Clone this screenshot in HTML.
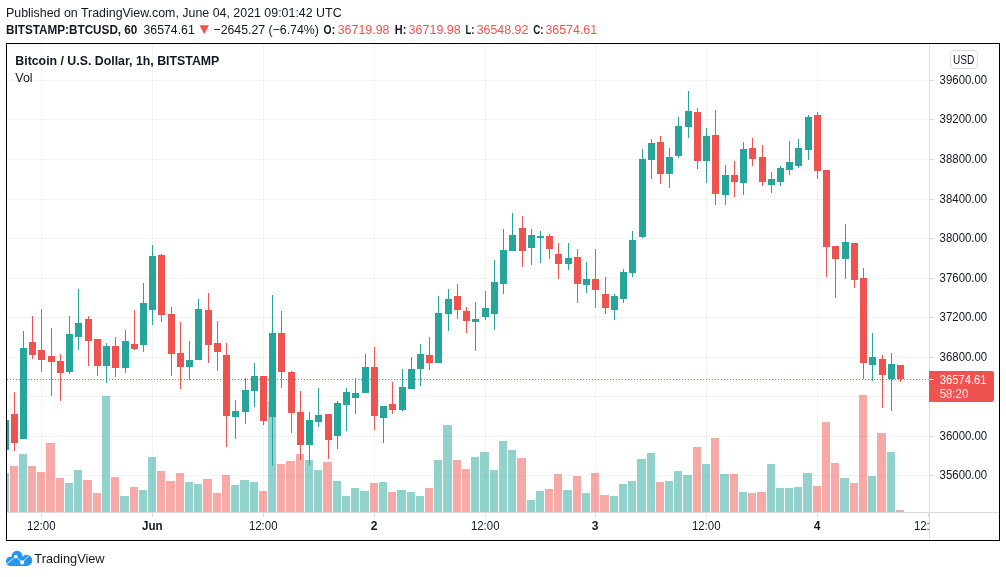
<!DOCTYPE html>
<html><head><meta charset="utf-8"><title>BTCUSD</title>
<style>html,body{margin:0;padding:0;background:#fff}body{width:1006px;height:577px;overflow:hidden;font-family:"Liberation Sans",sans-serif}</style>
</head><body>
<svg width="1006" height="577" viewBox="0 0 1006 577" style="display:block;will-change:transform">
<g shape-rendering="crispEdges">
<rect x="7" y="80" width="922" height="1" fill="rgba(42,46,57,0.06)"/>
<rect x="7" y="119" width="922" height="1" fill="rgba(42,46,57,0.06)"/>
<rect x="7" y="159" width="922" height="1" fill="rgba(42,46,57,0.06)"/>
<rect x="7" y="199" width="922" height="1" fill="rgba(42,46,57,0.06)"/>
<rect x="7" y="238" width="922" height="1" fill="rgba(42,46,57,0.06)"/>
<rect x="7" y="278" width="922" height="1" fill="rgba(42,46,57,0.06)"/>
<rect x="7" y="317" width="922" height="1" fill="rgba(42,46,57,0.06)"/>
<rect x="7" y="357" width="922" height="1" fill="rgba(42,46,57,0.06)"/>
<rect x="7" y="396" width="922" height="1" fill="rgba(42,46,57,0.06)"/>
<rect x="7" y="436" width="922" height="1" fill="rgba(42,46,57,0.06)"/>
<rect x="7" y="475" width="922" height="1" fill="rgba(42,46,57,0.06)"/>
<rect x="41" y="44" width="1" height="468" fill="rgba(42,46,57,0.06)"/>
<rect x="152" y="44" width="1" height="468" fill="rgba(42,46,57,0.06)"/>
<rect x="263" y="44" width="1" height="468" fill="rgba(42,46,57,0.06)"/>
<rect x="374" y="44" width="1" height="468" fill="rgba(42,46,57,0.06)"/>
<rect x="485" y="44" width="1" height="468" fill="rgba(42,46,57,0.06)"/>
<rect x="595" y="44" width="1" height="468" fill="rgba(42,46,57,0.06)"/>
<rect x="706" y="44" width="1" height="468" fill="rgba(42,46,57,0.06)"/>
<rect x="817" y="44" width="1" height="468" fill="rgba(42,46,57,0.06)"/>
<defs><clipPath id="cp"><rect x="7" y="44" width="922" height="468"/></clipPath></defs>
<g clip-path="url(#cp)">
<rect x="0" y="473" width="9" height="39" fill="rgba(38,166,154,0.5)"/>
<rect x="10" y="466" width="8" height="46" fill="rgba(239,83,80,0.5)"/>
<rect x="19" y="454" width="8" height="58" fill="rgba(38,166,154,0.5)"/>
<rect x="28" y="466" width="8" height="46" fill="rgba(239,83,80,0.5)"/>
<rect x="37" y="472" width="8" height="40" fill="rgba(239,83,80,0.5)"/>
<rect x="46" y="443" width="9" height="69" fill="rgba(239,83,80,0.5)"/>
<rect x="56" y="478" width="8" height="34" fill="rgba(239,83,80,0.5)"/>
<rect x="65" y="483" width="8" height="29" fill="rgba(38,166,154,0.5)"/>
<rect x="74" y="470" width="8" height="42" fill="rgba(38,166,154,0.5)"/>
<rect x="83" y="480" width="9" height="32" fill="rgba(239,83,80,0.5)"/>
<rect x="93" y="493" width="8" height="19" fill="rgba(239,83,80,0.5)"/>
<rect x="102" y="396" width="8" height="116" fill="rgba(38,166,154,0.5)"/>
<rect x="111" y="477" width="8" height="35" fill="rgba(239,83,80,0.5)"/>
<rect x="120" y="496" width="9" height="16" fill="rgba(38,166,154,0.5)"/>
<rect x="130" y="487" width="8" height="25" fill="rgba(239,83,80,0.5)"/>
<rect x="139" y="490" width="8" height="22" fill="rgba(38,166,154,0.5)"/>
<rect x="148" y="457" width="8" height="55" fill="rgba(38,166,154,0.5)"/>
<rect x="157" y="471" width="8" height="41" fill="rgba(239,83,80,0.5)"/>
<rect x="166" y="481" width="9" height="31" fill="rgba(239,83,80,0.5)"/>
<rect x="176" y="473" width="8" height="39" fill="rgba(239,83,80,0.5)"/>
<rect x="185" y="482" width="8" height="30" fill="rgba(38,166,154,0.5)"/>
<rect x="194" y="484" width="8" height="28" fill="rgba(38,166,154,0.5)"/>
<rect x="203" y="479" width="9" height="33" fill="rgba(239,83,80,0.5)"/>
<rect x="213" y="493" width="8" height="19" fill="rgba(239,83,80,0.5)"/>
<rect x="222" y="475" width="8" height="37" fill="rgba(239,83,80,0.5)"/>
<rect x="231" y="485" width="8" height="27" fill="rgba(38,166,154,0.5)"/>
<rect x="240" y="480" width="9" height="32" fill="rgba(38,166,154,0.5)"/>
<rect x="250" y="482" width="8" height="30" fill="rgba(38,166,154,0.5)"/>
<rect x="259" y="491" width="8" height="21" fill="rgba(239,83,80,0.5)"/>
<rect x="268" y="401" width="8" height="111" fill="rgba(38,166,154,0.5)"/>
<rect x="277" y="464" width="8" height="48" fill="rgba(239,83,80,0.5)"/>
<rect x="286" y="461" width="9" height="51" fill="rgba(239,83,80,0.5)"/>
<rect x="296" y="454" width="8" height="58" fill="rgba(239,83,80,0.5)"/>
<rect x="305" y="460" width="8" height="52" fill="rgba(38,166,154,0.5)"/>
<rect x="314" y="470" width="8" height="42" fill="rgba(38,166,154,0.5)"/>
<rect x="323" y="462" width="9" height="50" fill="rgba(239,83,80,0.5)"/>
<rect x="333" y="481" width="8" height="31" fill="rgba(38,166,154,0.5)"/>
<rect x="342" y="496" width="8" height="16" fill="rgba(38,166,154,0.5)"/>
<rect x="351" y="488" width="8" height="24" fill="rgba(38,166,154,0.5)"/>
<rect x="360" y="491" width="9" height="21" fill="rgba(38,166,154,0.5)"/>
<rect x="370" y="483" width="8" height="29" fill="rgba(239,83,80,0.5)"/>
<rect x="379" y="482" width="8" height="30" fill="rgba(38,166,154,0.5)"/>
<rect x="388" y="492" width="8" height="20" fill="rgba(239,83,80,0.5)"/>
<rect x="397" y="490" width="9" height="22" fill="rgba(38,166,154,0.5)"/>
<rect x="407" y="492" width="8" height="20" fill="rgba(38,166,154,0.5)"/>
<rect x="416" y="496" width="8" height="16" fill="rgba(38,166,154,0.5)"/>
<rect x="425" y="488" width="8" height="24" fill="rgba(239,83,80,0.5)"/>
<rect x="434" y="460" width="8" height="52" fill="rgba(38,166,154,0.5)"/>
<rect x="443" y="425" width="9" height="87" fill="rgba(38,166,154,0.5)"/>
<rect x="453" y="460" width="8" height="52" fill="rgba(239,83,80,0.5)"/>
<rect x="462" y="469" width="8" height="43" fill="rgba(239,83,80,0.5)"/>
<rect x="471" y="457" width="8" height="55" fill="rgba(38,166,154,0.5)"/>
<rect x="480" y="452" width="9" height="60" fill="rgba(38,166,154,0.5)"/>
<rect x="490" y="470" width="8" height="42" fill="rgba(38,166,154,0.5)"/>
<rect x="499" y="441" width="8" height="71" fill="rgba(38,166,154,0.5)"/>
<rect x="508" y="450" width="8" height="62" fill="rgba(38,166,154,0.5)"/>
<rect x="517" y="458" width="9" height="54" fill="rgba(239,83,80,0.5)"/>
<rect x="527" y="500" width="8" height="12" fill="rgba(38,166,154,0.5)"/>
<rect x="536" y="491" width="8" height="21" fill="rgba(38,166,154,0.5)"/>
<rect x="545" y="489" width="8" height="23" fill="rgba(239,83,80,0.5)"/>
<rect x="554" y="474" width="8" height="38" fill="rgba(239,83,80,0.5)"/>
<rect x="563" y="490" width="9" height="22" fill="rgba(38,166,154,0.5)"/>
<rect x="573" y="476" width="8" height="36" fill="rgba(239,83,80,0.5)"/>
<rect x="582" y="493" width="8" height="19" fill="rgba(38,166,154,0.5)"/>
<rect x="591" y="473" width="8" height="39" fill="rgba(239,83,80,0.5)"/>
<rect x="600" y="495" width="9" height="17" fill="rgba(239,83,80,0.5)"/>
<rect x="610" y="496" width="8" height="16" fill="rgba(38,166,154,0.5)"/>
<rect x="619" y="484" width="8" height="28" fill="rgba(38,166,154,0.5)"/>
<rect x="628" y="481" width="8" height="31" fill="rgba(38,166,154,0.5)"/>
<rect x="637" y="459" width="9" height="53" fill="rgba(38,166,154,0.5)"/>
<rect x="647" y="453" width="8" height="59" fill="rgba(38,166,154,0.5)"/>
<rect x="656" y="482" width="8" height="30" fill="rgba(239,83,80,0.5)"/>
<rect x="665" y="481" width="8" height="31" fill="rgba(38,166,154,0.5)"/>
<rect x="674" y="471" width="8" height="41" fill="rgba(38,166,154,0.5)"/>
<rect x="683" y="475" width="9" height="37" fill="rgba(38,166,154,0.5)"/>
<rect x="693" y="447" width="8" height="65" fill="rgba(239,83,80,0.5)"/>
<rect x="702" y="464" width="8" height="48" fill="rgba(38,166,154,0.5)"/>
<rect x="711" y="438" width="8" height="74" fill="rgba(239,83,80,0.5)"/>
<rect x="720" y="474" width="9" height="38" fill="rgba(38,166,154,0.5)"/>
<rect x="730" y="474" width="8" height="38" fill="rgba(239,83,80,0.5)"/>
<rect x="739" y="492" width="8" height="20" fill="rgba(38,166,154,0.5)"/>
<rect x="748" y="493" width="8" height="19" fill="rgba(239,83,80,0.5)"/>
<rect x="757" y="492" width="9" height="20" fill="rgba(239,83,80,0.5)"/>
<rect x="767" y="464" width="8" height="48" fill="rgba(38,166,154,0.5)"/>
<rect x="776" y="488" width="8" height="24" fill="rgba(38,166,154,0.5)"/>
<rect x="785" y="488" width="8" height="24" fill="rgba(38,166,154,0.5)"/>
<rect x="794" y="487" width="8" height="25" fill="rgba(38,166,154,0.5)"/>
<rect x="803" y="473" width="9" height="39" fill="rgba(38,166,154,0.5)"/>
<rect x="813" y="486" width="8" height="26" fill="rgba(239,83,80,0.5)"/>
<rect x="822" y="422" width="8" height="90" fill="rgba(239,83,80,0.5)"/>
<rect x="831" y="463" width="8" height="49" fill="rgba(239,83,80,0.5)"/>
<rect x="840" y="478" width="9" height="34" fill="rgba(38,166,154,0.5)"/>
<rect x="850" y="483" width="8" height="29" fill="rgba(239,83,80,0.5)"/>
<rect x="859" y="395" width="8" height="117" fill="rgba(239,83,80,0.5)"/>
<rect x="868" y="476" width="8" height="36" fill="rgba(38,166,154,0.5)"/>
<rect x="877" y="433" width="9" height="79" fill="rgba(239,83,80,0.5)"/>
<rect x="887" y="452" width="8" height="60" fill="rgba(38,166,154,0.5)"/>
<rect x="896" y="510" width="8" height="2" fill="rgba(239,83,80,0.5)"/>
<rect x="5" y="420" width="1" height="30" fill="#26A69A"/>
<rect x="2" y="420" width="7" height="30" fill="#26A69A"/>
<rect x="14" y="392" width="1" height="59" fill="#EF5350"/>
<rect x="11" y="414" width="7" height="29" fill="#EF5350"/>
<rect x="23" y="331" width="1" height="108" fill="#26A69A"/>
<rect x="20" y="348" width="7" height="91" fill="#26A69A"/>
<rect x="32" y="316" width="1" height="43" fill="#EF5350"/>
<rect x="29" y="342" width="7" height="13" fill="#EF5350"/>
<rect x="41" y="309" width="1" height="63" fill="#EF5350"/>
<rect x="38" y="350" width="7" height="10" fill="#EF5350"/>
<rect x="51" y="328" width="1" height="68" fill="#EF5350"/>
<rect x="48" y="356" width="7" height="6" fill="#EF5350"/>
<rect x="60" y="354" width="1" height="47" fill="#EF5350"/>
<rect x="57" y="361" width="7" height="12" fill="#EF5350"/>
<rect x="69" y="316" width="1" height="58" fill="#26A69A"/>
<rect x="66" y="334" width="7" height="38" fill="#26A69A"/>
<rect x="78" y="289" width="1" height="61" fill="#26A69A"/>
<rect x="75" y="323" width="7" height="14" fill="#26A69A"/>
<rect x="88" y="316" width="1" height="50" fill="#EF5350"/>
<rect x="85" y="319" width="7" height="22" fill="#EF5350"/>
<rect x="97" y="339" width="1" height="37" fill="#EF5350"/>
<rect x="94" y="339" width="7" height="27" fill="#EF5350"/>
<rect x="106" y="343" width="1" height="40" fill="#26A69A"/>
<rect x="103" y="346" width="7" height="20" fill="#26A69A"/>
<rect x="115" y="337" width="1" height="40" fill="#EF5350"/>
<rect x="112" y="346" width="7" height="22" fill="#EF5350"/>
<rect x="125" y="330" width="1" height="43" fill="#26A69A"/>
<rect x="122" y="341" width="7" height="27" fill="#26A69A"/>
<rect x="134" y="310" width="1" height="40" fill="#EF5350"/>
<rect x="131" y="344" width="7" height="5" fill="#EF5350"/>
<rect x="143" y="283" width="1" height="69" fill="#26A69A"/>
<rect x="140" y="303" width="7" height="42" fill="#26A69A"/>
<rect x="152" y="245" width="1" height="80" fill="#26A69A"/>
<rect x="149" y="256" width="7" height="54" fill="#26A69A"/>
<rect x="161" y="254" width="1" height="68" fill="#EF5350"/>
<rect x="158" y="255" width="7" height="60" fill="#EF5350"/>
<rect x="171" y="307" width="1" height="69" fill="#EF5350"/>
<rect x="168" y="314" width="7" height="40" fill="#EF5350"/>
<rect x="180" y="322" width="1" height="67" fill="#EF5350"/>
<rect x="177" y="353" width="7" height="14" fill="#EF5350"/>
<rect x="189" y="341" width="1" height="39" fill="#26A69A"/>
<rect x="186" y="360" width="7" height="7" fill="#26A69A"/>
<rect x="198" y="299" width="1" height="61" fill="#26A69A"/>
<rect x="195" y="309" width="7" height="51" fill="#26A69A"/>
<rect x="208" y="293" width="1" height="70" fill="#EF5350"/>
<rect x="205" y="310" width="7" height="35" fill="#EF5350"/>
<rect x="217" y="321" width="1" height="50" fill="#EF5350"/>
<rect x="214" y="343" width="7" height="9" fill="#EF5350"/>
<rect x="226" y="343" width="1" height="104" fill="#EF5350"/>
<rect x="223" y="355" width="7" height="61" fill="#EF5350"/>
<rect x="235" y="400" width="1" height="39" fill="#26A69A"/>
<rect x="232" y="411" width="7" height="6" fill="#26A69A"/>
<rect x="245" y="378" width="1" height="46" fill="#26A69A"/>
<rect x="242" y="390" width="7" height="22" fill="#26A69A"/>
<rect x="254" y="363" width="1" height="44" fill="#26A69A"/>
<rect x="251" y="376" width="7" height="15" fill="#26A69A"/>
<rect x="263" y="376" width="1" height="49" fill="#EF5350"/>
<rect x="260" y="376" width="7" height="45" fill="#EF5350"/>
<rect x="272" y="295" width="1" height="171" fill="#26A69A"/>
<rect x="269" y="333" width="7" height="84" fill="#26A69A"/>
<rect x="281" y="311" width="1" height="77" fill="#EF5350"/>
<rect x="278" y="333" width="7" height="39" fill="#EF5350"/>
<rect x="291" y="371" width="1" height="62" fill="#EF5350"/>
<rect x="288" y="372" width="7" height="41" fill="#EF5350"/>
<rect x="300" y="391" width="1" height="69" fill="#EF5350"/>
<rect x="297" y="412" width="7" height="33" fill="#EF5350"/>
<rect x="309" y="412" width="1" height="53" fill="#26A69A"/>
<rect x="306" y="420" width="7" height="25" fill="#26A69A"/>
<rect x="318" y="388" width="1" height="39" fill="#26A69A"/>
<rect x="315" y="415" width="7" height="7" fill="#26A69A"/>
<rect x="328" y="414" width="1" height="45" fill="#EF5350"/>
<rect x="325" y="414" width="7" height="26" fill="#EF5350"/>
<rect x="337" y="401" width="1" height="48" fill="#26A69A"/>
<rect x="334" y="403" width="7" height="33" fill="#26A69A"/>
<rect x="346" y="388" width="1" height="43" fill="#26A69A"/>
<rect x="343" y="392" width="7" height="13" fill="#26A69A"/>
<rect x="355" y="378" width="1" height="36" fill="#26A69A"/>
<rect x="352" y="393" width="7" height="5" fill="#26A69A"/>
<rect x="365" y="354" width="1" height="39" fill="#26A69A"/>
<rect x="362" y="367" width="7" height="26" fill="#26A69A"/>
<rect x="374" y="347" width="1" height="83" fill="#EF5350"/>
<rect x="371" y="367" width="7" height="49" fill="#EF5350"/>
<rect x="383" y="406" width="1" height="37" fill="#26A69A"/>
<rect x="380" y="406" width="7" height="12" fill="#26A69A"/>
<rect x="392" y="382" width="1" height="32" fill="#EF5350"/>
<rect x="389" y="404" width="7" height="6" fill="#EF5350"/>
<rect x="402" y="369" width="1" height="42" fill="#26A69A"/>
<rect x="399" y="387" width="7" height="23" fill="#26A69A"/>
<rect x="411" y="357" width="1" height="32" fill="#26A69A"/>
<rect x="408" y="369" width="7" height="20" fill="#26A69A"/>
<rect x="420" y="344" width="1" height="42" fill="#26A69A"/>
<rect x="417" y="354" width="7" height="15" fill="#26A69A"/>
<rect x="429" y="337" width="1" height="33" fill="#EF5350"/>
<rect x="426" y="355" width="7" height="8" fill="#EF5350"/>
<rect x="438" y="296" width="1" height="67" fill="#26A69A"/>
<rect x="435" y="313" width="7" height="50" fill="#26A69A"/>
<rect x="448" y="289" width="1" height="42" fill="#26A69A"/>
<rect x="445" y="299" width="7" height="15" fill="#26A69A"/>
<rect x="457" y="284" width="1" height="35" fill="#EF5350"/>
<rect x="454" y="296" width="7" height="14" fill="#EF5350"/>
<rect x="466" y="307" width="1" height="26" fill="#EF5350"/>
<rect x="463" y="311" width="7" height="10" fill="#EF5350"/>
<rect x="475" y="302" width="1" height="49" fill="#26A69A"/>
<rect x="472" y="319" width="7" height="3" fill="#26A69A"/>
<rect x="485" y="291" width="1" height="29" fill="#26A69A"/>
<rect x="482" y="308" width="7" height="9" fill="#26A69A"/>
<rect x="494" y="260" width="1" height="70" fill="#26A69A"/>
<rect x="491" y="282" width="7" height="32" fill="#26A69A"/>
<rect x="503" y="229" width="1" height="65" fill="#26A69A"/>
<rect x="500" y="250" width="7" height="34" fill="#26A69A"/>
<rect x="512" y="213" width="1" height="38" fill="#26A69A"/>
<rect x="509" y="235" width="7" height="16" fill="#26A69A"/>
<rect x="522" y="216" width="1" height="51" fill="#EF5350"/>
<rect x="519" y="228" width="7" height="23" fill="#EF5350"/>
<rect x="531" y="229" width="1" height="36" fill="#26A69A"/>
<rect x="528" y="235" width="7" height="13" fill="#26A69A"/>
<rect x="540" y="231" width="1" height="32" fill="#26A69A"/>
<rect x="537" y="236" width="7" height="2" fill="#26A69A"/>
<rect x="549" y="234" width="1" height="25" fill="#EF5350"/>
<rect x="546" y="236" width="7" height="13" fill="#EF5350"/>
<rect x="558" y="243" width="1" height="36" fill="#EF5350"/>
<rect x="555" y="254" width="7" height="10" fill="#EF5350"/>
<rect x="568" y="243" width="1" height="27" fill="#26A69A"/>
<rect x="565" y="258" width="7" height="6" fill="#26A69A"/>
<rect x="577" y="249" width="1" height="54" fill="#EF5350"/>
<rect x="574" y="257" width="7" height="27" fill="#EF5350"/>
<rect x="586" y="262" width="1" height="31" fill="#26A69A"/>
<rect x="583" y="279" width="7" height="6" fill="#26A69A"/>
<rect x="595" y="249" width="1" height="59" fill="#EF5350"/>
<rect x="592" y="279" width="7" height="11" fill="#EF5350"/>
<rect x="605" y="277" width="1" height="37" fill="#EF5350"/>
<rect x="602" y="294" width="7" height="14" fill="#EF5350"/>
<rect x="614" y="294" width="1" height="26" fill="#26A69A"/>
<rect x="611" y="296" width="7" height="14" fill="#26A69A"/>
<rect x="623" y="269" width="1" height="34" fill="#26A69A"/>
<rect x="620" y="272" width="7" height="27" fill="#26A69A"/>
<rect x="632" y="231" width="1" height="46" fill="#26A69A"/>
<rect x="629" y="240" width="7" height="33" fill="#26A69A"/>
<rect x="642" y="149" width="1" height="89" fill="#26A69A"/>
<rect x="639" y="159" width="7" height="78" fill="#26A69A"/>
<rect x="651" y="139" width="1" height="40" fill="#26A69A"/>
<rect x="648" y="143" width="7" height="17" fill="#26A69A"/>
<rect x="660" y="136" width="1" height="48" fill="#EF5350"/>
<rect x="657" y="142" width="7" height="32" fill="#EF5350"/>
<rect x="669" y="148" width="1" height="40" fill="#26A69A"/>
<rect x="666" y="157" width="7" height="17" fill="#26A69A"/>
<rect x="678" y="117" width="1" height="41" fill="#26A69A"/>
<rect x="675" y="126" width="7" height="30" fill="#26A69A"/>
<rect x="688" y="91" width="1" height="47" fill="#26A69A"/>
<rect x="685" y="111" width="7" height="16" fill="#26A69A"/>
<rect x="697" y="108" width="1" height="61" fill="#EF5350"/>
<rect x="694" y="112" width="7" height="49" fill="#EF5350"/>
<rect x="706" y="128" width="1" height="55" fill="#26A69A"/>
<rect x="703" y="136" width="7" height="25" fill="#26A69A"/>
<rect x="715" y="110" width="1" height="95" fill="#EF5350"/>
<rect x="712" y="135" width="7" height="59" fill="#EF5350"/>
<rect x="725" y="165" width="1" height="40" fill="#26A69A"/>
<rect x="722" y="175" width="7" height="20" fill="#26A69A"/>
<rect x="734" y="161" width="1" height="36" fill="#EF5350"/>
<rect x="731" y="175" width="7" height="7" fill="#EF5350"/>
<rect x="743" y="142" width="1" height="53" fill="#26A69A"/>
<rect x="740" y="149" width="7" height="34" fill="#26A69A"/>
<rect x="752" y="138" width="1" height="28" fill="#EF5350"/>
<rect x="749" y="148" width="7" height="11" fill="#EF5350"/>
<rect x="762" y="145" width="1" height="41" fill="#EF5350"/>
<rect x="759" y="157" width="7" height="25" fill="#EF5350"/>
<rect x="771" y="172" width="1" height="21" fill="#26A69A"/>
<rect x="768" y="179" width="7" height="6" fill="#26A69A"/>
<rect x="780" y="166" width="1" height="20" fill="#26A69A"/>
<rect x="777" y="168" width="7" height="14" fill="#26A69A"/>
<rect x="789" y="141" width="1" height="34" fill="#26A69A"/>
<rect x="786" y="162" width="7" height="8" fill="#26A69A"/>
<rect x="798" y="139" width="1" height="29" fill="#26A69A"/>
<rect x="795" y="148" width="7" height="18" fill="#26A69A"/>
<rect x="808" y="115" width="1" height="45" fill="#26A69A"/>
<rect x="805" y="117" width="7" height="33" fill="#26A69A"/>
<rect x="817" y="112" width="1" height="67" fill="#EF5350"/>
<rect x="814" y="115" width="7" height="56" fill="#EF5350"/>
<rect x="826" y="170" width="1" height="107" fill="#EF5350"/>
<rect x="823" y="170" width="7" height="77" fill="#EF5350"/>
<rect x="835" y="246" width="1" height="52" fill="#EF5350"/>
<rect x="832" y="246" width="7" height="13" fill="#EF5350"/>
<rect x="845" y="224" width="1" height="55" fill="#26A69A"/>
<rect x="842" y="242" width="7" height="17" fill="#26A69A"/>
<rect x="854" y="243" width="1" height="45" fill="#EF5350"/>
<rect x="851" y="243" width="7" height="37" fill="#EF5350"/>
<rect x="863" y="268" width="1" height="111" fill="#EF5350"/>
<rect x="860" y="278" width="7" height="85" fill="#EF5350"/>
<rect x="872" y="333" width="1" height="48" fill="#26A69A"/>
<rect x="869" y="357" width="7" height="8" fill="#26A69A"/>
<rect x="882" y="355" width="1" height="53" fill="#EF5350"/>
<rect x="879" y="359" width="7" height="16" fill="#EF5350"/>
<rect x="891" y="353" width="1" height="58" fill="#26A69A"/>
<rect x="888" y="364" width="7" height="15" fill="#26A69A"/>
<rect x="900" y="365" width="1" height="17" fill="#EF5350"/>
<rect x="897" y="365" width="7" height="14" fill="#EF5350"/>
</g>
<g fill="#EF5350">
<rect x="7" y="379" width="1" height="1"/>
<rect x="10" y="379" width="1" height="1"/>
<rect x="13" y="379" width="1" height="1"/>
<rect x="16" y="379" width="1" height="1"/>
<rect x="19" y="379" width="1" height="1"/>
<rect x="22" y="379" width="1" height="1"/>
<rect x="25" y="379" width="1" height="1"/>
<rect x="28" y="379" width="1" height="1"/>
<rect x="31" y="379" width="1" height="1"/>
<rect x="34" y="379" width="1" height="1"/>
<rect x="37" y="379" width="1" height="1"/>
<rect x="40" y="379" width="1" height="1"/>
<rect x="43" y="379" width="1" height="1"/>
<rect x="46" y="379" width="1" height="1"/>
<rect x="49" y="379" width="1" height="1"/>
<rect x="52" y="379" width="1" height="1"/>
<rect x="55" y="379" width="1" height="1"/>
<rect x="58" y="379" width="1" height="1"/>
<rect x="61" y="379" width="1" height="1"/>
<rect x="64" y="379" width="1" height="1"/>
<rect x="67" y="379" width="1" height="1"/>
<rect x="70" y="379" width="1" height="1"/>
<rect x="73" y="379" width="1" height="1"/>
<rect x="76" y="379" width="1" height="1"/>
<rect x="79" y="379" width="1" height="1"/>
<rect x="82" y="379" width="1" height="1"/>
<rect x="85" y="379" width="1" height="1"/>
<rect x="88" y="379" width="1" height="1"/>
<rect x="91" y="379" width="1" height="1"/>
<rect x="94" y="379" width="1" height="1"/>
<rect x="97" y="379" width="1" height="1"/>
<rect x="100" y="379" width="1" height="1"/>
<rect x="103" y="379" width="1" height="1"/>
<rect x="106" y="379" width="1" height="1"/>
<rect x="109" y="379" width="1" height="1"/>
<rect x="112" y="379" width="1" height="1"/>
<rect x="115" y="379" width="1" height="1"/>
<rect x="118" y="379" width="1" height="1"/>
<rect x="121" y="379" width="1" height="1"/>
<rect x="124" y="379" width="1" height="1"/>
<rect x="127" y="379" width="1" height="1"/>
<rect x="130" y="379" width="1" height="1"/>
<rect x="133" y="379" width="1" height="1"/>
<rect x="136" y="379" width="1" height="1"/>
<rect x="139" y="379" width="1" height="1"/>
<rect x="142" y="379" width="1" height="1"/>
<rect x="145" y="379" width="1" height="1"/>
<rect x="148" y="379" width="1" height="1"/>
<rect x="151" y="379" width="1" height="1"/>
<rect x="154" y="379" width="1" height="1"/>
<rect x="157" y="379" width="1" height="1"/>
<rect x="160" y="379" width="1" height="1"/>
<rect x="163" y="379" width="1" height="1"/>
<rect x="166" y="379" width="1" height="1"/>
<rect x="169" y="379" width="1" height="1"/>
<rect x="172" y="379" width="1" height="1"/>
<rect x="175" y="379" width="1" height="1"/>
<rect x="178" y="379" width="1" height="1"/>
<rect x="181" y="379" width="1" height="1"/>
<rect x="184" y="379" width="1" height="1"/>
<rect x="187" y="379" width="1" height="1"/>
<rect x="190" y="379" width="1" height="1"/>
<rect x="193" y="379" width="1" height="1"/>
<rect x="196" y="379" width="1" height="1"/>
<rect x="199" y="379" width="1" height="1"/>
<rect x="202" y="379" width="1" height="1"/>
<rect x="205" y="379" width="1" height="1"/>
<rect x="208" y="379" width="1" height="1"/>
<rect x="211" y="379" width="1" height="1"/>
<rect x="214" y="379" width="1" height="1"/>
<rect x="217" y="379" width="1" height="1"/>
<rect x="220" y="379" width="1" height="1"/>
<rect x="223" y="379" width="1" height="1"/>
<rect x="226" y="379" width="1" height="1"/>
<rect x="229" y="379" width="1" height="1"/>
<rect x="232" y="379" width="1" height="1"/>
<rect x="235" y="379" width="1" height="1"/>
<rect x="238" y="379" width="1" height="1"/>
<rect x="241" y="379" width="1" height="1"/>
<rect x="244" y="379" width="1" height="1"/>
<rect x="247" y="379" width="1" height="1"/>
<rect x="250" y="379" width="1" height="1"/>
<rect x="253" y="379" width="1" height="1"/>
<rect x="256" y="379" width="1" height="1"/>
<rect x="259" y="379" width="1" height="1"/>
<rect x="262" y="379" width="1" height="1"/>
<rect x="265" y="379" width="1" height="1"/>
<rect x="268" y="379" width="1" height="1"/>
<rect x="271" y="379" width="1" height="1"/>
<rect x="274" y="379" width="1" height="1"/>
<rect x="277" y="379" width="1" height="1"/>
<rect x="280" y="379" width="1" height="1"/>
<rect x="283" y="379" width="1" height="1"/>
<rect x="286" y="379" width="1" height="1"/>
<rect x="289" y="379" width="1" height="1"/>
<rect x="292" y="379" width="1" height="1"/>
<rect x="295" y="379" width="1" height="1"/>
<rect x="298" y="379" width="1" height="1"/>
<rect x="301" y="379" width="1" height="1"/>
<rect x="304" y="379" width="1" height="1"/>
<rect x="307" y="379" width="1" height="1"/>
<rect x="310" y="379" width="1" height="1"/>
<rect x="313" y="379" width="1" height="1"/>
<rect x="316" y="379" width="1" height="1"/>
<rect x="319" y="379" width="1" height="1"/>
<rect x="322" y="379" width="1" height="1"/>
<rect x="325" y="379" width="1" height="1"/>
<rect x="328" y="379" width="1" height="1"/>
<rect x="331" y="379" width="1" height="1"/>
<rect x="334" y="379" width="1" height="1"/>
<rect x="337" y="379" width="1" height="1"/>
<rect x="340" y="379" width="1" height="1"/>
<rect x="343" y="379" width="1" height="1"/>
<rect x="346" y="379" width="1" height="1"/>
<rect x="349" y="379" width="1" height="1"/>
<rect x="352" y="379" width="1" height="1"/>
<rect x="355" y="379" width="1" height="1"/>
<rect x="358" y="379" width="1" height="1"/>
<rect x="361" y="379" width="1" height="1"/>
<rect x="364" y="379" width="1" height="1"/>
<rect x="367" y="379" width="1" height="1"/>
<rect x="370" y="379" width="1" height="1"/>
<rect x="373" y="379" width="1" height="1"/>
<rect x="376" y="379" width="1" height="1"/>
<rect x="379" y="379" width="1" height="1"/>
<rect x="382" y="379" width="1" height="1"/>
<rect x="385" y="379" width="1" height="1"/>
<rect x="388" y="379" width="1" height="1"/>
<rect x="391" y="379" width="1" height="1"/>
<rect x="394" y="379" width="1" height="1"/>
<rect x="397" y="379" width="1" height="1"/>
<rect x="400" y="379" width="1" height="1"/>
<rect x="403" y="379" width="1" height="1"/>
<rect x="406" y="379" width="1" height="1"/>
<rect x="409" y="379" width="1" height="1"/>
<rect x="412" y="379" width="1" height="1"/>
<rect x="415" y="379" width="1" height="1"/>
<rect x="418" y="379" width="1" height="1"/>
<rect x="421" y="379" width="1" height="1"/>
<rect x="424" y="379" width="1" height="1"/>
<rect x="427" y="379" width="1" height="1"/>
<rect x="430" y="379" width="1" height="1"/>
<rect x="433" y="379" width="1" height="1"/>
<rect x="436" y="379" width="1" height="1"/>
<rect x="439" y="379" width="1" height="1"/>
<rect x="442" y="379" width="1" height="1"/>
<rect x="445" y="379" width="1" height="1"/>
<rect x="448" y="379" width="1" height="1"/>
<rect x="451" y="379" width="1" height="1"/>
<rect x="454" y="379" width="1" height="1"/>
<rect x="457" y="379" width="1" height="1"/>
<rect x="460" y="379" width="1" height="1"/>
<rect x="463" y="379" width="1" height="1"/>
<rect x="466" y="379" width="1" height="1"/>
<rect x="469" y="379" width="1" height="1"/>
<rect x="472" y="379" width="1" height="1"/>
<rect x="475" y="379" width="1" height="1"/>
<rect x="478" y="379" width="1" height="1"/>
<rect x="481" y="379" width="1" height="1"/>
<rect x="484" y="379" width="1" height="1"/>
<rect x="487" y="379" width="1" height="1"/>
<rect x="490" y="379" width="1" height="1"/>
<rect x="493" y="379" width="1" height="1"/>
<rect x="496" y="379" width="1" height="1"/>
<rect x="499" y="379" width="1" height="1"/>
<rect x="502" y="379" width="1" height="1"/>
<rect x="505" y="379" width="1" height="1"/>
<rect x="508" y="379" width="1" height="1"/>
<rect x="511" y="379" width="1" height="1"/>
<rect x="514" y="379" width="1" height="1"/>
<rect x="517" y="379" width="1" height="1"/>
<rect x="520" y="379" width="1" height="1"/>
<rect x="523" y="379" width="1" height="1"/>
<rect x="526" y="379" width="1" height="1"/>
<rect x="529" y="379" width="1" height="1"/>
<rect x="532" y="379" width="1" height="1"/>
<rect x="535" y="379" width="1" height="1"/>
<rect x="538" y="379" width="1" height="1"/>
<rect x="541" y="379" width="1" height="1"/>
<rect x="544" y="379" width="1" height="1"/>
<rect x="547" y="379" width="1" height="1"/>
<rect x="550" y="379" width="1" height="1"/>
<rect x="553" y="379" width="1" height="1"/>
<rect x="556" y="379" width="1" height="1"/>
<rect x="559" y="379" width="1" height="1"/>
<rect x="562" y="379" width="1" height="1"/>
<rect x="565" y="379" width="1" height="1"/>
<rect x="568" y="379" width="1" height="1"/>
<rect x="571" y="379" width="1" height="1"/>
<rect x="574" y="379" width="1" height="1"/>
<rect x="577" y="379" width="1" height="1"/>
<rect x="580" y="379" width="1" height="1"/>
<rect x="583" y="379" width="1" height="1"/>
<rect x="586" y="379" width="1" height="1"/>
<rect x="589" y="379" width="1" height="1"/>
<rect x="592" y="379" width="1" height="1"/>
<rect x="595" y="379" width="1" height="1"/>
<rect x="598" y="379" width="1" height="1"/>
<rect x="601" y="379" width="1" height="1"/>
<rect x="604" y="379" width="1" height="1"/>
<rect x="607" y="379" width="1" height="1"/>
<rect x="610" y="379" width="1" height="1"/>
<rect x="613" y="379" width="1" height="1"/>
<rect x="616" y="379" width="1" height="1"/>
<rect x="619" y="379" width="1" height="1"/>
<rect x="622" y="379" width="1" height="1"/>
<rect x="625" y="379" width="1" height="1"/>
<rect x="628" y="379" width="1" height="1"/>
<rect x="631" y="379" width="1" height="1"/>
<rect x="634" y="379" width="1" height="1"/>
<rect x="637" y="379" width="1" height="1"/>
<rect x="640" y="379" width="1" height="1"/>
<rect x="643" y="379" width="1" height="1"/>
<rect x="646" y="379" width="1" height="1"/>
<rect x="649" y="379" width="1" height="1"/>
<rect x="652" y="379" width="1" height="1"/>
<rect x="655" y="379" width="1" height="1"/>
<rect x="658" y="379" width="1" height="1"/>
<rect x="661" y="379" width="1" height="1"/>
<rect x="664" y="379" width="1" height="1"/>
<rect x="667" y="379" width="1" height="1"/>
<rect x="670" y="379" width="1" height="1"/>
<rect x="673" y="379" width="1" height="1"/>
<rect x="676" y="379" width="1" height="1"/>
<rect x="679" y="379" width="1" height="1"/>
<rect x="682" y="379" width="1" height="1"/>
<rect x="685" y="379" width="1" height="1"/>
<rect x="688" y="379" width="1" height="1"/>
<rect x="691" y="379" width="1" height="1"/>
<rect x="694" y="379" width="1" height="1"/>
<rect x="697" y="379" width="1" height="1"/>
<rect x="700" y="379" width="1" height="1"/>
<rect x="703" y="379" width="1" height="1"/>
<rect x="706" y="379" width="1" height="1"/>
<rect x="709" y="379" width="1" height="1"/>
<rect x="712" y="379" width="1" height="1"/>
<rect x="715" y="379" width="1" height="1"/>
<rect x="718" y="379" width="1" height="1"/>
<rect x="721" y="379" width="1" height="1"/>
<rect x="724" y="379" width="1" height="1"/>
<rect x="727" y="379" width="1" height="1"/>
<rect x="730" y="379" width="1" height="1"/>
<rect x="733" y="379" width="1" height="1"/>
<rect x="736" y="379" width="1" height="1"/>
<rect x="739" y="379" width="1" height="1"/>
<rect x="742" y="379" width="1" height="1"/>
<rect x="745" y="379" width="1" height="1"/>
<rect x="748" y="379" width="1" height="1"/>
<rect x="751" y="379" width="1" height="1"/>
<rect x="754" y="379" width="1" height="1"/>
<rect x="757" y="379" width="1" height="1"/>
<rect x="760" y="379" width="1" height="1"/>
<rect x="763" y="379" width="1" height="1"/>
<rect x="766" y="379" width="1" height="1"/>
<rect x="769" y="379" width="1" height="1"/>
<rect x="772" y="379" width="1" height="1"/>
<rect x="775" y="379" width="1" height="1"/>
<rect x="778" y="379" width="1" height="1"/>
<rect x="781" y="379" width="1" height="1"/>
<rect x="784" y="379" width="1" height="1"/>
<rect x="787" y="379" width="1" height="1"/>
<rect x="790" y="379" width="1" height="1"/>
<rect x="793" y="379" width="1" height="1"/>
<rect x="796" y="379" width="1" height="1"/>
<rect x="799" y="379" width="1" height="1"/>
<rect x="802" y="379" width="1" height="1"/>
<rect x="805" y="379" width="1" height="1"/>
<rect x="808" y="379" width="1" height="1"/>
<rect x="811" y="379" width="1" height="1"/>
<rect x="814" y="379" width="1" height="1"/>
<rect x="817" y="379" width="1" height="1"/>
<rect x="820" y="379" width="1" height="1"/>
<rect x="823" y="379" width="1" height="1"/>
<rect x="826" y="379" width="1" height="1"/>
<rect x="829" y="379" width="1" height="1"/>
<rect x="832" y="379" width="1" height="1"/>
<rect x="835" y="379" width="1" height="1"/>
<rect x="838" y="379" width="1" height="1"/>
<rect x="841" y="379" width="1" height="1"/>
<rect x="844" y="379" width="1" height="1"/>
<rect x="847" y="379" width="1" height="1"/>
<rect x="850" y="379" width="1" height="1"/>
<rect x="853" y="379" width="1" height="1"/>
<rect x="856" y="379" width="1" height="1"/>
<rect x="859" y="379" width="1" height="1"/>
<rect x="862" y="379" width="1" height="1"/>
<rect x="865" y="379" width="1" height="1"/>
<rect x="868" y="379" width="1" height="1"/>
<rect x="871" y="379" width="1" height="1"/>
<rect x="874" y="379" width="1" height="1"/>
<rect x="877" y="379" width="1" height="1"/>
<rect x="880" y="379" width="1" height="1"/>
<rect x="883" y="379" width="1" height="1"/>
<rect x="886" y="379" width="1" height="1"/>
<rect x="889" y="379" width="1" height="1"/>
<rect x="892" y="379" width="1" height="1"/>
<rect x="895" y="379" width="1" height="1"/>
<rect x="898" y="379" width="1" height="1"/>
<rect x="901" y="379" width="1" height="1"/>
<rect x="904" y="379" width="1" height="1"/>
<rect x="907" y="379" width="1" height="1"/>
<rect x="910" y="379" width="1" height="1"/>
<rect x="913" y="379" width="1" height="1"/>
<rect x="916" y="379" width="1" height="1"/>
<rect x="919" y="379" width="1" height="1"/>
<rect x="922" y="379" width="1" height="1"/>
<rect x="925" y="379" width="1" height="1"/>
<rect x="928" y="379" width="1" height="1"/>
</g>
<rect x="929" y="44" width="1" height="496" fill="#DCDDE0"/>
<rect x="7" y="512" width="992" height="1" fill="#DCDDE0"/>
<rect x="930" y="80" width="4" height="1" fill="#DCDDE0"/>
<rect x="930" y="119" width="4" height="1" fill="#DCDDE0"/>
<rect x="930" y="159" width="4" height="1" fill="#DCDDE0"/>
<rect x="930" y="199" width="4" height="1" fill="#DCDDE0"/>
<rect x="930" y="238" width="4" height="1" fill="#DCDDE0"/>
<rect x="930" y="278" width="4" height="1" fill="#DCDDE0"/>
<rect x="930" y="317" width="4" height="1" fill="#DCDDE0"/>
<rect x="930" y="357" width="4" height="1" fill="#DCDDE0"/>
<rect x="930" y="436" width="4" height="1" fill="#DCDDE0"/>
<rect x="930" y="475" width="4" height="1" fill="#DCDDE0"/>
<rect x="41" y="513" width="1" height="4" fill="#DCDDE0"/>
<rect x="152" y="513" width="1" height="4" fill="#DCDDE0"/>
<rect x="263" y="513" width="1" height="4" fill="#DCDDE0"/>
<rect x="374" y="513" width="1" height="4" fill="#DCDDE0"/>
<rect x="485" y="513" width="1" height="4" fill="#DCDDE0"/>
<rect x="595" y="513" width="1" height="4" fill="#DCDDE0"/>
<rect x="706" y="513" width="1" height="4" fill="#DCDDE0"/>
<rect x="817" y="513" width="1" height="4" fill="#DCDDE0"/>
<rect x="928" y="513" width="1" height="4" fill="#DCDDE0"/>
<rect x="6" y="43" width="994" height="1" fill="#000"/>
<rect x="6" y="540" width="994" height="1" fill="#000"/>
<rect x="6" y="43" width="1" height="498" fill="#000"/>
<rect x="999" y="43" width="1" height="498" fill="#000"/>
</g>
<path d="M929 371 H992 Q994 371 994 373 V400 Q994 402 992 402 H929 Z" fill="#EF5350"/>
<rect x="929" y="379" width="5" height="1" fill="#fff" shape-rendering="crispEdges"/>
<text x="939.6" y="84.1" font-family="Liberation Sans, sans-serif" font-size="12" fill="#131722" textLength="47.6" lengthAdjust="spacingAndGlyphs" >39600.00</text>
<text x="939.6" y="123.1" font-family="Liberation Sans, sans-serif" font-size="12" fill="#131722" textLength="47.6" lengthAdjust="spacingAndGlyphs" >39200.00</text>
<text x="939.6" y="163.1" font-family="Liberation Sans, sans-serif" font-size="12" fill="#131722" textLength="47.6" lengthAdjust="spacingAndGlyphs" >38800.00</text>
<text x="939.6" y="203.1" font-family="Liberation Sans, sans-serif" font-size="12" fill="#131722" textLength="47.6" lengthAdjust="spacingAndGlyphs" >38400.00</text>
<text x="939.6" y="242.1" font-family="Liberation Sans, sans-serif" font-size="12" fill="#131722" textLength="47.6" lengthAdjust="spacingAndGlyphs" >38000.00</text>
<text x="939.6" y="282.1" font-family="Liberation Sans, sans-serif" font-size="12" fill="#131722" textLength="47.6" lengthAdjust="spacingAndGlyphs" >37600.00</text>
<text x="939.6" y="321.1" font-family="Liberation Sans, sans-serif" font-size="12" fill="#131722" textLength="47.6" lengthAdjust="spacingAndGlyphs" >37200.00</text>
<text x="939.6" y="361.1" font-family="Liberation Sans, sans-serif" font-size="12" fill="#131722" textLength="47.6" lengthAdjust="spacingAndGlyphs" >36800.00</text>
<text x="939.6" y="440.1" font-family="Liberation Sans, sans-serif" font-size="12" fill="#131722" textLength="47.6" lengthAdjust="spacingAndGlyphs" >36000.00</text>
<text x="939.6" y="479.1" font-family="Liberation Sans, sans-serif" font-size="12" fill="#131722" textLength="47.6" lengthAdjust="spacingAndGlyphs" >35600.00</text>
<text x="939.7" y="383.8" font-family="Liberation Sans, sans-serif" font-size="12" fill="#fff" textLength="46.8" lengthAdjust="spacingAndGlyphs" >36574.61</text>
<text x="939.7" y="397.8" font-family="Liberation Sans, sans-serif" font-size="12" fill="#fff" textLength="28.6" lengthAdjust="spacingAndGlyphs" fill-opacity="0.85">58:20</text>
<rect x="950.5" y="50.5" width="27" height="18" rx="3.5" fill="#fff" stroke="#D9DBE3" stroke-width="1"/>
<text x="953.0" y="63.7" font-family="Liberation Sans, sans-serif" font-size="12" fill="#131722" textLength="21.4" lengthAdjust="spacingAndGlyphs" >USD</text>
<text x="26.900000000000002" y="529.8" font-family="Liberation Sans, sans-serif" font-size="12" fill="#131722" textLength="28.6" lengthAdjust="spacingAndGlyphs" >12:00</text>
<text x="142.1" y="529.8" font-family="Liberation Sans, sans-serif" font-size="12" fill="#131722" font-weight="bold" textLength="20.6" lengthAdjust="spacingAndGlyphs" >Jun</text>
<text x="248.89999999999998" y="529.8" font-family="Liberation Sans, sans-serif" font-size="12" fill="#131722" textLength="28.6" lengthAdjust="spacingAndGlyphs" >12:00</text>
<text x="374.0" y="529.8" font-family="Liberation Sans, sans-serif" font-size="12" fill="#131722" font-weight="bold" text-anchor="middle" >2</text>
<text x="470.9" y="529.8" font-family="Liberation Sans, sans-serif" font-size="12" fill="#131722" textLength="28.6" lengthAdjust="spacingAndGlyphs" >12:00</text>
<text x="595.0" y="529.8" font-family="Liberation Sans, sans-serif" font-size="12" fill="#131722" font-weight="bold" text-anchor="middle" >3</text>
<text x="691.9000000000001" y="529.8" font-family="Liberation Sans, sans-serif" font-size="12" fill="#131722" textLength="28.6" lengthAdjust="spacingAndGlyphs" >12:00</text>
<text x="817.0" y="529.8" font-family="Liberation Sans, sans-serif" font-size="12" fill="#131722" font-weight="bold" text-anchor="middle" >4</text>
<defs><clipPath id="cpt"><rect x="7" y="513" width="922" height="27"/></clipPath></defs>
<g clip-path="url(#cpt)">
<text x="913.9000000000001" y="529.8" font-family="Liberation Sans, sans-serif" font-size="12" fill="#131722" textLength="28.6" lengthAdjust="spacingAndGlyphs" >12:00</text>
</g>
<text x="15.3" y="65" font-family="Liberation Sans, sans-serif" font-size="13" fill="#131722" font-weight="bold" textLength="204" lengthAdjust="spacingAndGlyphs" >Bitcoin / U.S. Dollar, 1h, BITSTAMP</text>
<text x="15.3" y="82" font-family="Liberation Sans, sans-serif" font-size="13" fill="#131722" textLength="17.3" lengthAdjust="spacingAndGlyphs" >Vol</text>
<text x="6.0" y="17" font-family="Liberation Sans, sans-serif" font-size="13" fill="#131722" textLength="335.6" lengthAdjust="spacingAndGlyphs" >Published on TradingView.com, June 04, 2021 09:01:42 UTC</text>
<text x="6.1" y="33.8" font-family="Liberation Sans, sans-serif" font-size="13" fill="#131722" font-weight="bold" textLength="131.3" lengthAdjust="spacingAndGlyphs" >BITSTAMP:BTCUSD, 60</text>
<text x="143.5" y="33.8" font-family="Liberation Sans, sans-serif" font-size="13" fill="#131722" textLength="51.3" lengthAdjust="spacingAndGlyphs" >36574.61</text>
<path d="M199.5 25.2 H208.9 L204.2 34.2 Z" fill="#EF5350"/>
<text x="213.5" y="33.8" font-family="Liberation Sans, sans-serif" font-size="13" fill="#131722" textLength="105.3" lengthAdjust="spacingAndGlyphs" >−2645.27 (−6.74%)</text>
<text x="323.6" y="33.8" font-family="Liberation Sans, sans-serif" font-size="13" fill="#131722" font-weight="bold" textLength="11.5" lengthAdjust="spacingAndGlyphs" >O:</text>
<text x="337.7" y="33.8" font-family="Liberation Sans, sans-serif" font-size="13" fill="#EF5350" textLength="51.8" lengthAdjust="spacingAndGlyphs" >36719.98</text>
<text x="394.8" y="33.8" font-family="Liberation Sans, sans-serif" font-size="13" fill="#131722" font-weight="bold" textLength="11.5" lengthAdjust="spacingAndGlyphs" >H:</text>
<text x="408.6" y="33.8" font-family="Liberation Sans, sans-serif" font-size="13" fill="#EF5350" textLength="52.1" lengthAdjust="spacingAndGlyphs" >36719.98</text>
<text x="465.4" y="33.8" font-family="Liberation Sans, sans-serif" font-size="13" fill="#131722" font-weight="bold" textLength="8.9" lengthAdjust="spacingAndGlyphs" >L:</text>
<text x="476.7" y="33.8" font-family="Liberation Sans, sans-serif" font-size="13" fill="#EF5350" textLength="51.7" lengthAdjust="spacingAndGlyphs" >36548.92</text>
<text x="533.2" y="33.8" font-family="Liberation Sans, sans-serif" font-size="13" fill="#131722" font-weight="bold" textLength="10.3" lengthAdjust="spacingAndGlyphs" >C:</text>
<text x="545.4" y="33.8" font-family="Liberation Sans, sans-serif" font-size="13" fill="#EF5350" textLength="51.8" lengthAdjust="spacingAndGlyphs" >36574.61</text>
<g fill="#2196F3">
<circle cx="10.4" cy="561.4" r="4.6"/><circle cx="17" cy="556.3" r="5.5"/><circle cx="26.7" cy="560.4" r="5.6"/><rect x="10.4" y="557" width="16.3" height="9"/>
</g>
<path d="M6.0 564.4 L15.8 556.6 L22.1 562.4 L29.2 555.4" fill="none" stroke="#fff" stroke-width="0.9"/>
<circle cx="15.8" cy="556.6" r="1.8" fill="#fff"/>
<circle cx="22.1" cy="562.4" r="2.1" fill="#fff"/>
<text x="34.3" y="562.8" font-family="Liberation Sans, sans-serif" font-size="13" fill="#131722" textLength="70.3" lengthAdjust="spacingAndGlyphs" >TradingView</text>
</svg>
</body></html>
